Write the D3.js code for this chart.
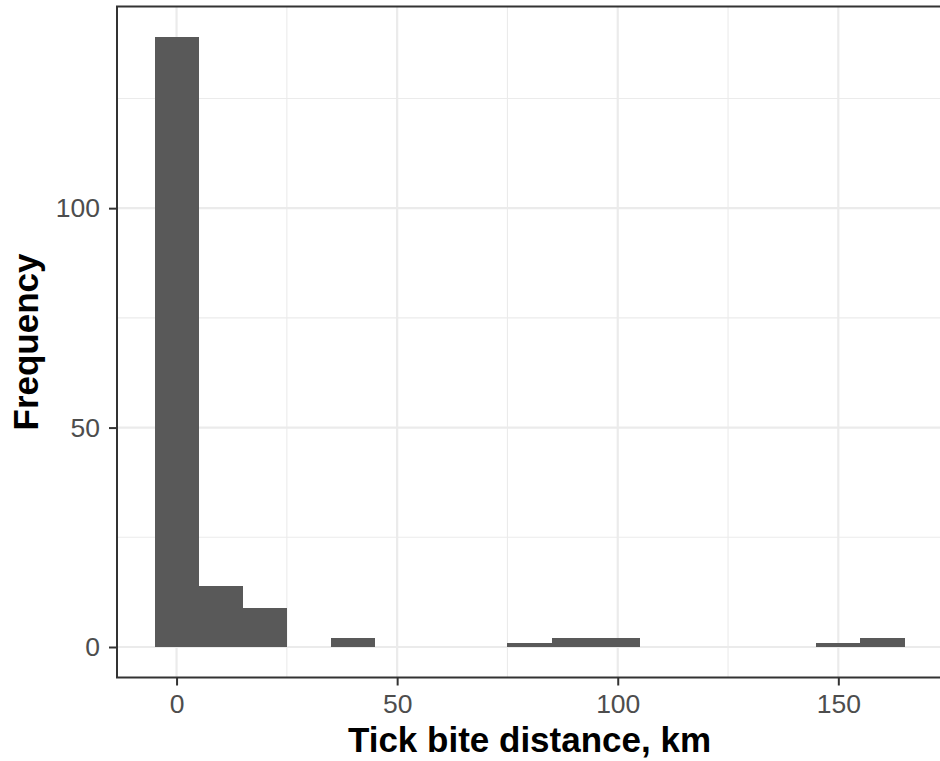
<!DOCTYPE html>
<html>
<head>
<meta charset="utf-8">
<script src="https://cdn.jsdelivr.net/npm/d3@7"></script>
<style>
  body { margin: 0; background: #fff; }
  svg { display: block; }
  text { font-family: "Liberation Sans", Arial, Helvetica, sans-serif; }
</style>
</head>
<body>
<div id="chart"></div>
<script>
// histogram data, bins 10 km wide centred on the values below
var binCenters = [0, 10, 20, 30, 40, 50, 60, 70, 80, 90, 100, 110, 120, 130, 140, 150, 160];
var counts = [139, 14, 9, 0, 2, 0, 0, 0, 1, 2, 2, 0, 0, 0, 0, 1, 2];
var binWidth = 10;

var xTicks = [0, 50, 100, 150];
var xMinor = [25, 75, 125];
var yTicks = [0, 50, 100];
var yMinor = [25, 75, 125];

var xTitle = "Tick bite distance, km";
var yTitle = "Frequency";

// svg size
var svgWidth = 940;
var svgHeight = 761;

var margin = { top: 6.5, right: -2, bottom: 83.5, left: 117 };
var width = svgWidth - margin.left - margin.right;
var height = svgHeight - margin.top - margin.bottom;

var svg = d3.select("#chart")
    .append("svg")
    .attr("width", svgWidth)
    .attr("height", svgHeight);

var chart = svg.append("g")
    .attr("transform", `translate(${margin.left}, ${margin.top})`);

// ggplot style 5% expansion
var xmin = d3.min(binCenters) - binWidth / 2;
var xmax = d3.max(binCenters) + binWidth / 2;
var xpad = (xmax - xmin) * 0.05;
var ymax = d3.max(counts);
var ypad = ymax * 0.05;

var xscale = d3.scaleLinear()
    .domain([xmin - xpad, xmax + xpad])
    .range([0, width]);

var yscale = d3.scaleLinear()
    .domain([-ypad, ymax + ypad])
    .range([height, 0]);

// minor grid
chart.selectAll(".xminor").data(xMinor).enter().append("line")
    .attr("x1", d => xscale(d)).attr("x2", d => xscale(d))
    .attr("y1", 0).attr("y2", height)
    .attr("stroke", "#ebebeb").attr("stroke-width", 1.1);
chart.selectAll(".yminor").data(yMinor).enter().append("line")
    .attr("y1", d => yscale(d)).attr("y2", d => yscale(d))
    .attr("x1", 0).attr("x2", width)
    .attr("stroke", "#ebebeb").attr("stroke-width", 1.1);

// major grid
chart.selectAll(".xmajor").data(xTicks).enter().append("line")
    .attr("x1", d => xscale(d)).attr("x2", d => xscale(d))
    .attr("y1", 0).attr("y2", height)
    .attr("stroke", "#ebebeb").attr("stroke-width", 2.2);
chart.selectAll(".ymajor").data(yTicks).enter().append("line")
    .attr("y1", d => yscale(d)).attr("y2", d => yscale(d))
    .attr("x1", 0).attr("x2", width)
    .attr("stroke", "#ebebeb").attr("stroke-width", 2.2);

// bars
chart.selectAll(".bar")
    .data(binCenters)
    .enter()
    .append("rect")
    .attr("x", d => xscale(d - binWidth / 2))
    .attr("width", d => xscale(d + binWidth / 2) - xscale(d - binWidth / 2))
    .attr("y", (d, i) => yscale(counts[i]))
    .attr("height", (d, i) => yscale(0) - yscale(counts[i]))
    .attr("fill", "#595959")
    .attr("shape-rendering", "crispEdges");

// panel border
chart.append("rect")
    .attr("x", 0).attr("y", 0)
    .attr("width", width).attr("height", height)
    .attr("fill", "none")
    .attr("stroke", "#333333")
    .attr("stroke-width", 2);

// axes
var bottomAxis = d3.axisBottom(xscale)
    .tickValues(xTicks)
    .tickSize(8)
    .tickPadding(9);
var leftAxis = d3.axisLeft(yscale)
    .tickValues(yTicks)
    .tickSize(8)
    .tickPadding(9);

var gx = chart.append("g")
    .attr("transform", `translate(0, ${height})`)
    .call(bottomAxis);
var gy = chart.append("g")
    .call(leftAxis);

[gx, gy].forEach(function (g) {
    g.select(".domain").remove();
    g.selectAll(".tick line").attr("stroke", "#333333").attr("stroke-width", 2);
    g.selectAll(".tick text")
        .attr("fill", "#4d4d4d")
        .style("font-size", "26.5px");
});

// axis titles
svg.append("text")
    .attr("x", margin.left + width / 2)
    .attr("y", 752)
    .attr("text-anchor", "middle")
    .style("font-size", "35px")
    .style("font-weight", "bold")
    .attr("fill", "#000")
    .text(xTitle);

svg.append("text")
    .attr("transform", `translate(38, ${margin.top + height / 2}) rotate(-90)`)
    .attr("text-anchor", "middle")
    .style("font-size", "35px")
    .style("font-weight", "bold")
    .attr("fill", "#000")
    .text(yTitle);
</script>
</body>
</html>
